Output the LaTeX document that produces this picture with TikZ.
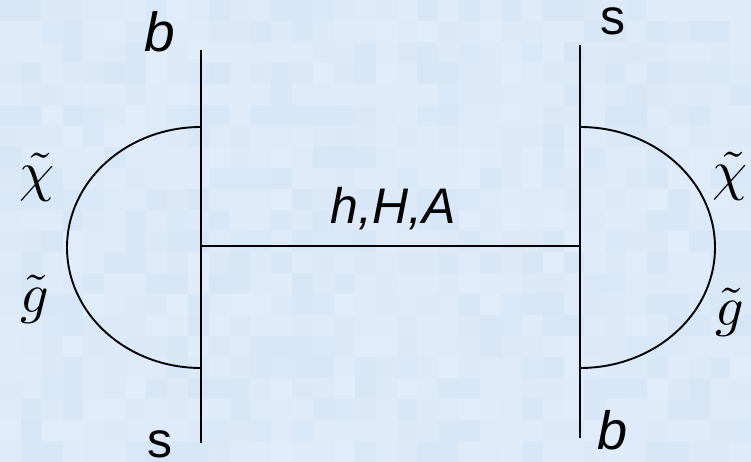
\documentclass[tikz,border=0pt]{standalone}
\usepackage{fontspec}
\newfontfamily\arial{Liberation Sans}
\definecolor{bgA}{RGB}{210,228,246}
\definecolor{bgB}{RGB}{229,238,251}
\tikzset{
  ln/.style={line width=2.2pt,black},
  hln/.style={line width=2.8pt,black},
  arcln/.style={line width=1.9pt,black},
  lab/.style={inner sep=0pt,anchor=base},
  mlab/.style={inner sep=0pt,anchor=base,scale=5.6},
}
\begin{document}
\begin{tikzpicture}[x=1pt,y=-1pt]
\useasboundingbox (0,0) rectangle (751,462);
\fill[bgA!45!bgB] (0,0) rectangle (751,462);
\pgfmathsetseed{7}
\foreach \i in {0,...,35}{
  \foreach \j in {0,...,21}{
    \pgfmathsetmacro{\r}{int(20+rnd*60)}
    \fill[bgA!\r!bgB] ({\i*20.87},{\j*21}) rectangle ({(\i+1)*20.87},{(\j+1)*21});
  }
}
% coordinates
\coordinate (Lt) at (201,50);
\coordinate (Lb) at (201,443);
\coordinate (Rt) at (580,45);
\coordinate (Rb) at (580,438);
\coordinate (Lm) at (201,246);
\coordinate (Rm) at (580,246);
\coordinate (La) at (201,127);
\coordinate (Ra) at (580,127);
% lines
\draw[ln] (Lt) -- (Lb);
\draw[ln] (Rt) -- (Rb);
\draw[hln] (Lm) -- (Rm);
\draw[arcln] (La) arc[start angle=90,end angle=270,x radius=134pt,y radius=120.5pt];
\draw[arcln] (Ra) arc[start angle=90,end angle=-90,x radius=135pt,y radius=120.5pt];
% labels
\node[lab,font=\arial\itshape\fontsize{55}{55}\selectfont] (bl) at (160,52) {b};
\node[lab,font=\arial\fontsize{50}{50}\selectfont] (sl) at (159.5,457) {s};
\node[lab,font=\arial\fontsize{50}{50}\selectfont] (sr) at (612.5,35) {s};
\node[lab,font=\arial\itshape\fontsize{54}{54}\selectfont] (br) at (613,449) {b};
\node[lab,font=\arial\itshape\fontsize{50}{50}\selectfont] (hha) at (393.5,223) {h,H,A};
\node[mlab] (chil) at (37.5,190.5) {$\tilde{\chi}$};
\node[mlab] (gl) at (34.5,312) {$\tilde{g}$};
\node[mlab] (chir) at (730,189.5) {$\tilde{\chi}$};
\node[mlab] (gr) at (730,325) {$\tilde{g}$};
\end{tikzpicture}
\end{document}
